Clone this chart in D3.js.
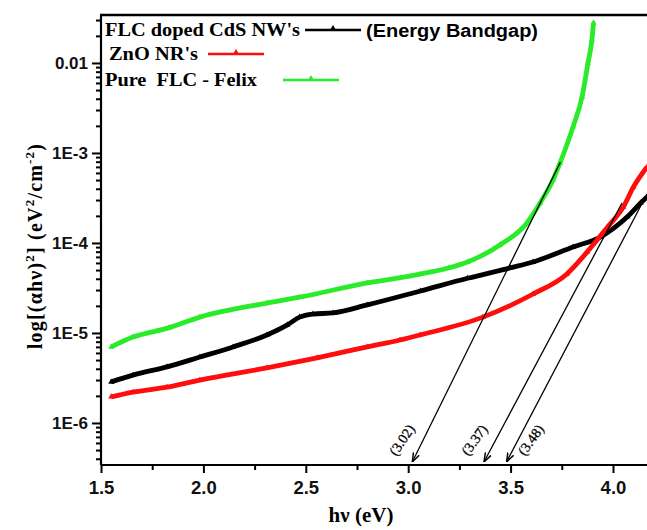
<!DOCTYPE html>
<html>
<head>
<meta charset="utf-8">
<script src="https://cdn.jsdelivr.net/npm/d3@7"></script>
<style>
  body { margin: 0; background: #fff; }
  svg { display: block; }
  .serif { font-family: "Liberation Serif", "Times New Roman", serif; font-weight: bold; }
  .sans { font-family: "Liberation Sans", Arial, sans-serif; font-weight: bold; }
</style>
</head>
<body>
<div id="chart"></div>
<script>

// photon energy (eV) and log-scale absorption values
var hvCdS  = [1.55, 1.656, 1.822, 1.983, 2.145, 2.31, 2.41, 2.47, 2.535, 2.633, 2.80, 3.06, 3.29, 3.50, 3.61, 3.805, 3.94, 4.07, 4.135, 4.166];
var valCdS = [2.86e-6, 3.4e-6, 4.2e-6, 5.4e-6, 7.0e-6, 9.5e-6, 1.23e-5, 1.5e-5, 1.62e-5, 1.67e-5, 2.05e-5, 2.93e-5, 4.05e-5, 5.3e-5, 6.15e-5, 9.0e-5, 1.17e-4, 1.95e-4, 2.78e-4, 3.24e-4];

var hvZnO  = [1.55, 1.656, 1.822, 1.983, 2.31, 2.555, 2.80, 2.96, 3.058, 3.365, 3.61, 3.775, 3.873, 3.97, 4.05, 4.10, 4.166];
var valZnO = [1.95e-6, 2.2e-6, 2.5e-6, 3.0e-6, 4.1e-6, 5.3e-6, 7.0e-6, 8.35e-6, 9.5e-6, 1.5e-5, 2.71e-5, 4.53e-5, 7.9e-5, 1.47e-4, 2.5e-4, 4.2e-4, 7.0e-4];

var hvFLC  = [1.55, 1.656, 1.83, 1.983, 2.31, 2.47, 2.80, 3.058, 3.2, 3.29, 3.448, 3.58, 3.644, 3.707, 3.741, 3.805, 3.849, 3.878, 3.897, 3.905];
var valFLC = [7.0e-6, 9.0e-6, 1.14e-5, 1.5e-5, 2.15e-5, 2.5e-5, 3.6e-5, 4.5e-5, 5.3e-5, 6.15e-5, 9.5e-5, 1.67e-4, 2.78e-4, 5.0e-4, 7.7e-4, 1.95e-3, 4.2e-3, 1.0e-2, 1.8e-2, 2.8e-2];

var seriesNames  = ["FLC doped CdS NW's", "ZnO NR's", "Pure  FLC - Felix"];
var seriesColors = ["#000000", "#ff0d0d", "#2aeb2a"];

// extrapolated band-gap lines: foot on the energy axis, top end on the curve
var gapLabels = ["(3.02)", "(3.37)", "(3.48)"];
var gapFootX  = [3.02, 3.37, 3.48];
var gapTopX   = [3.743, 4.044, 4.166];
var gapTopY   = [7.9e-4, 2.78e-4, 3.5e-4];
var gapFootY  = 3.69e-7;

var xTicks      = [1.5, 2.0, 2.5, 3.0, 3.5, 4.0];
var xMinorTicks = [1.75, 2.25, 2.75, 3.25, 3.75];
var yTicks      = [1e-6, 1e-5, 1e-4, 1e-3, 1e-2];
var yTickLabels = ["1E-6", "1E-5", "1E-4", "1E-3", "0.01"];


var W = 647, H = 530;
var pL = 101, pR = 647, pT = 15, pB = 465;

var svg = d3.select("#chart").append("svg")
  .attr("width", W).attr("height", H)
  .style("background", "#fff");

var x = d3.scaleLinear().domain([1.5, 4.1661]).range([pL, pR]);
var y = d3.scaleLog().domain([Math.pow(10, -6.467), Math.pow(10, -1.467)]).range([pB, pT]);

var defs = svg.append("defs");
defs.append("clipPath").attr("id", "plot")
  .append("rect").attr("x", pL).attr("y", pT).attr("width", pR - pL).attr("height", pB - pT);

defs.append("marker")
  .attr("id", "arrow").attr("viewBox", "0 0 10 10").attr("refX", 10).attr("refY", 5)
  .attr("markerWidth", 7).attr("markerHeight", 7).attr("orient", "auto")
  .append("path").attr("d", "M0,1.5 L10,5 L0,8.5").attr("fill", "none").attr("stroke", "#000").attr("stroke-width", 1.6);

// data curves
var series = [
  { xs: hvCdS, ys: valCdS },
  { xs: hvZnO, ys: valZnO },
  { xs: hvFLC, ys: valFLC }
];

var line = d3.line()
  .x(function (d) { return x(d[0]); })
  .y(function (d) { return y(d[1]); })
  .curve(d3.curveMonotoneX);

var plot = svg.append("g").attr("clip-path", "url(#plot)");

series.forEach(function (s, i) {
  var pts = s.xs.map(function (v, k) { return [v, s.ys[k]]; });
  plot.append("path")
    .datum(pts)
    .attr("fill", "none")
    .attr("stroke", seriesColors[i])
    .attr("stroke-width", 4.8)
    .attr("stroke-linejoin", "round")
    .attr("d", line);
  plot.selectAll(null).data(pts).enter().append("path")
    .attr("transform", function (d) { return "translate(" + x(d[0]) + "," + y(d[1]) + ")"; })
    .attr("d", d3.symbol(d3.symbolTriangle, 16))
    .attr("fill", seriesColors[i]);
});

// band-gap extrapolation arrows
gapLabels.forEach(function (lab, i) {
  var x0 = x(gapTopX[i]), y0 = y(gapTopY[i]);
  var x1 = x(gapFootX[i]), y1 = y(gapFootY);
  svg.append("line")
    .attr("x1", x0).attr("y1", y0).attr("x2", x1).attr("y2", y1)
    .attr("stroke", "#000").attr("stroke-width", 1.3)
    .attr("marker-end", "url(#arrow)");

  var ang = Math.atan2(y0 - y1, x0 - x1) * 180 / Math.PI + 8;
  var side = i === 2 ? 1 : -1;
  var lx = x1 + 20 * (x0 - x1) / (y1 - y0) + side * (i === 2 ? 15 : 19);
  var ly = y1 - 21;
  svg.append("text")
    .attr("class", "serif")
    .style("font-weight", "normal")
    .attr("font-size", 14)
    .attr("text-anchor", "middle")
    .attr("dominant-baseline", "middle")
    .attr("stroke", "#000").attr("stroke-width", 0.3)
    .attr("transform", "translate(" + lx + "," + ly + ") rotate(" + ang + ")")
    .text(lab);
});

// axes
var xAxis = svg.append("g").attr("transform", "translate(0," + pB + ")")
  .call(d3.axisBottom(x).tickValues(xTicks).tickSize(8).tickPadding(8).tickFormat(d3.format(".1f")));
svg.append("g").attr("transform", "translate(0," + pB + ")")
  .call(d3.axisBottom(x).tickValues(xMinorTicks).tickSize(5).tickFormat(""))
  .select(".domain").remove();

var yMinor = [];
[-7, -6, -5, -4, -3, -2].forEach(function (e) {
  for (var m = 2; m <= 9; m++) {
    var v = m * Math.pow(10, e);
    if (v > y.domain()[0] && v < y.domain()[1]) yMinor.push(v);
  }
});

var yAxis = svg.append("g").attr("transform", "translate(" + pL + ",0)")
  .call(d3.axisLeft(y).tickValues(yTicks).tickSize(9).tickPadding(4)
    .tickFormat(function (d, i) { return yTickLabels[i]; }));
svg.append("g").attr("transform", "translate(" + pL + ",0)")
  .call(d3.axisLeft(y).tickValues(yMinor).tickSize(5).tickFormat(""))
  .select(".domain").remove();

svg.selectAll(".domain").attr("stroke-width", 2.2);
svg.selectAll(".tick line").attr("stroke-width", 2);
xAxis.select(".domain").attr("d", "M" + pL + ",0H" + pR);
yAxis.select(".domain").attr("d", "M0," + pT + "V" + pB);
xAxis.selectAll(".tick text").attr("class", "sans").attr("font-size", 18.5).attr("fill", "#111");
yAxis.selectAll(".tick text").attr("class", "sans").attr("font-size", 17).attr("fill", "#111");

svg.append("line")
  .attr("x1", pL - 1).attr("x2", pR).attr("y1", pT).attr("y2", pT)
  .attr("stroke", "#000").attr("stroke-width", 2.5);

// axis titles
svg.append("text").attr("class", "serif").attr("font-size", 21)
  .attr("x", 361).attr("y", 522).attr("text-anchor", "middle")
  .text("h\u03bd (eV)");

var yl = svg.append("text").attr("class", "serif").attr("font-size", 20)
  .attr("text-anchor", "middle")
  .style("letter-spacing", "1.2px")
  .attr("transform", "translate(42,246) rotate(-90)");
yl.append("tspan").text("log[(\u03b1h\u03bd)");
yl.append("tspan").attr("dy", -8).attr("font-size", 13).text("2");
yl.append("tspan").attr("dy", 8).text("]  (eV");
yl.append("tspan").attr("dy", -8).attr("font-size", 13).text("2");
yl.append("tspan").attr("dy", 8).text("/cm");
yl.append("tspan").attr("dy", -8).attr("font-size", 13).text("-2");
yl.append("tspan").attr("dy", 8).text(")");

// legend
var legRowY   = [30, 54, 80];
var legTextX  = [105, 109, 105];
var legTextW  = [195, 89, 152];
var legLineX  = [305, 208, 283];

seriesNames.forEach(function (name, i) {
  svg.append("text").attr("class", "serif").attr("font-size", 18)
    .attr("x", legTextX[i]).attr("y", legRowY[i] + 6)
    .style("white-space", "pre")
    .attr("textLength", legTextW[i]).attr("lengthAdjust", "spacingAndGlyphs")
    .text(name);
  svg.append("line")
    .attr("x1", legLineX[i]).attr("x2", legLineX[i] + 56)
    .attr("y1", legRowY[i]).attr("y2", legRowY[i])
    .attr("stroke", seriesColors[i]).attr("stroke-width", 2.5);
  svg.append("path")
    .attr("transform", "translate(" + (legLineX[i] + 28) + "," + (legRowY[i] - 1) + ")")
    .attr("d", d3.symbol(d3.symbolTriangle, 22))
    .attr("fill", seriesColors[i]);
});

svg.append("text").attr("class", "sans").attr("font-size", 17.5)
  .attr("x", 366).attr("y", legRowY[0] + 7)
  .attr("textLength", 172).attr("lengthAdjust", "spacingAndGlyphs")
  .text("(Energy Bandgap)");

</script>
</body>
</html>
